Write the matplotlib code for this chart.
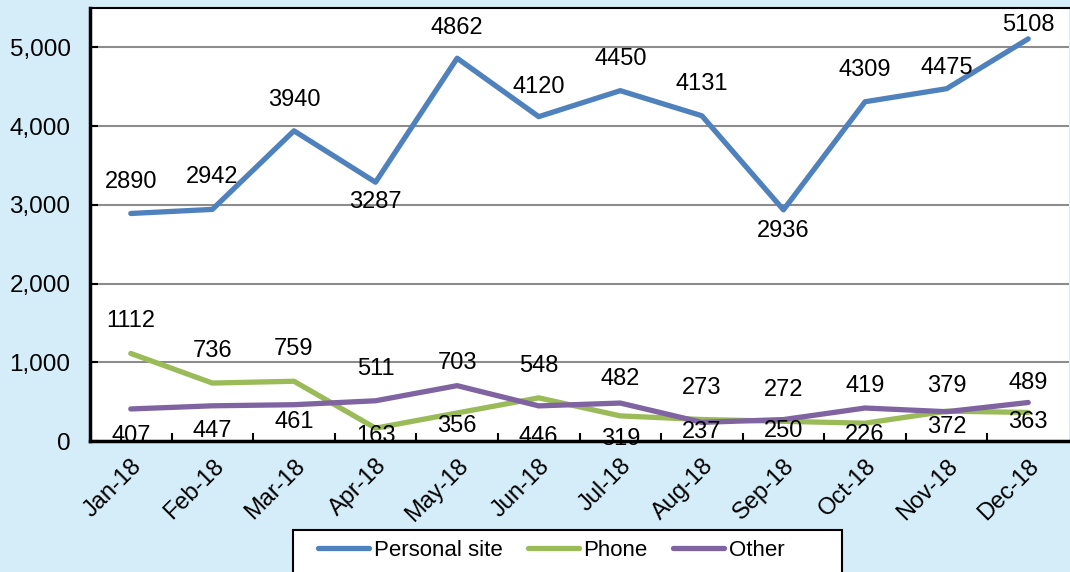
import matplotlib
matplotlib.use("Agg")
import matplotlib.pyplot as plt
from matplotlib.patches import Rectangle
import numpy as np

months = ["Jan-18", "Feb-18", "Mar-18", "Apr-18", "May-18", "Jun-18",
          "Jul-18", "Aug-18", "Sep-18", "Oct-18", "Nov-18", "Dec-18"]
personal_site = [2890, 2942, 3940, 3287, 4862, 4120, 4450, 4131, 2936, 4309, 4475, 5108]
phone = [1112, 736, 759, 163, 356, 548, 319, 273, 250, 226, 379, 363]
other = [407, 447, 461, 511, 703, 446, 482, 237, 272, 419, 372, 489]
yticks = [0, 1000, 2000, 3000, 4000, 5000]
ytick_labels = ["0", "1,000", "2,000", "3,000", "4,000", "5,000"]

# label vertical offsets in pixels (positive = above)
pers_dy = [31, 32, 31, -20, 30, 30, 32, 32, -21, 32, 21, 14]
phone_dy = [32, 32, 32, -8, -13, 32, -23, 32, -10, -12, 25, -10]
other_dy = [-27, -25, -17, 32, 23, -31, 24, -10, 30, 22, -15, 20]

plt.rcParams['font.family'] = ['Liberation Sans', 'DejaVu Sans']
BG = "#D4EDF9"
C_BLUE, C_GREEN, C_PURPLE = "#4F81BD", "#9BBB59", "#8064A2"

W, H = 1070, 572
fig = plt.figure(figsize=(W / 100, H / 100), dpi=100, facecolor=BG)
ax = fig.add_axes([90 / W, 1 - 441 / H, (1069 - 90) / W, (441 - 8) / H])
ax.set_facecolor("white")

x = np.arange(len(months))
lw = 3.8
ax.plot(x, personal_site, color=C_BLUE, lw=lw, solid_capstyle="round", label="Personal site", zorder=3)
ax.plot(x, phone, color=C_GREEN, lw=lw, solid_capstyle="round", label="Phone", zorder=3)
ax.plot(x, other, color=C_PURPLE, lw=lw, solid_capstyle="round", label="Other", zorder=3)

fs = 17
for series, dys in ((personal_site, pers_dy), (phone, phone_dy), (other, other_dy)):
    for xi, v, dy in zip(x, series, dys):
        ax.annotate(str(v), (xi, v), xytext=(0, dy * 0.72), textcoords="offset points",
                    ha="center", va="center", fontsize=fs, color="black", zorder=5)

ax.set_xlim(-0.5, len(months) - 0.5)
ax.set_ylim(0, 5500)
ax.set_yticks(yticks)
ax.set_yticklabels(ytick_labels, fontsize=17.5)
ax.set_xticks(x)
ax.set_xticklabels(months, rotation=45, ha="right", va="top", rotation_mode="anchor", fontsize=17)
ax.set_xticks(np.arange(0.5, len(months) - 0.5, 1), minor=True)
ax.tick_params(axis="x", which="major", length=0, pad=10)
ax.tick_params(axis="x", which="minor", direction="in", length=6, width=1.5, color="black")
ax.tick_params(axis="y", direction="in", length=6, width=1.5, pad=14)

ax.grid(axis="y", color="#8C8C8C", lw=1.5, zorder=1)
ax.set_axisbelow(True)
for s in ("left", "bottom"):
    ax.spines[s].set_linewidth(2.5)
    ax.spines[s].set_color("black")
ax.spines["top"].set_linewidth(1.5)
ax.spines["right"].set_visible(False)

# legend frame (drawn separately to match the asymmetric padding)
fig.patches.append(Rectangle((293 / W, 1 - 580 / H), (842 - 293) / W, 50 / H,
                             transform=fig.transFigure, facecolor="white",
                             edgecolor="black", lw=1.5, zorder=1))
leg = fig.legend(loc="center left", bbox_to_anchor=(318 / W, 1 - 550 / H), ncol=3, fontsize=16,
                 frameon=False, handlelength=2.3, columnspacing=1.15,
                 handletextpad=0.2, borderpad=0, borderaxespad=0)
leg.set_zorder(2)

fig.savefig("out.png", dpi=100, facecolor=BG)
